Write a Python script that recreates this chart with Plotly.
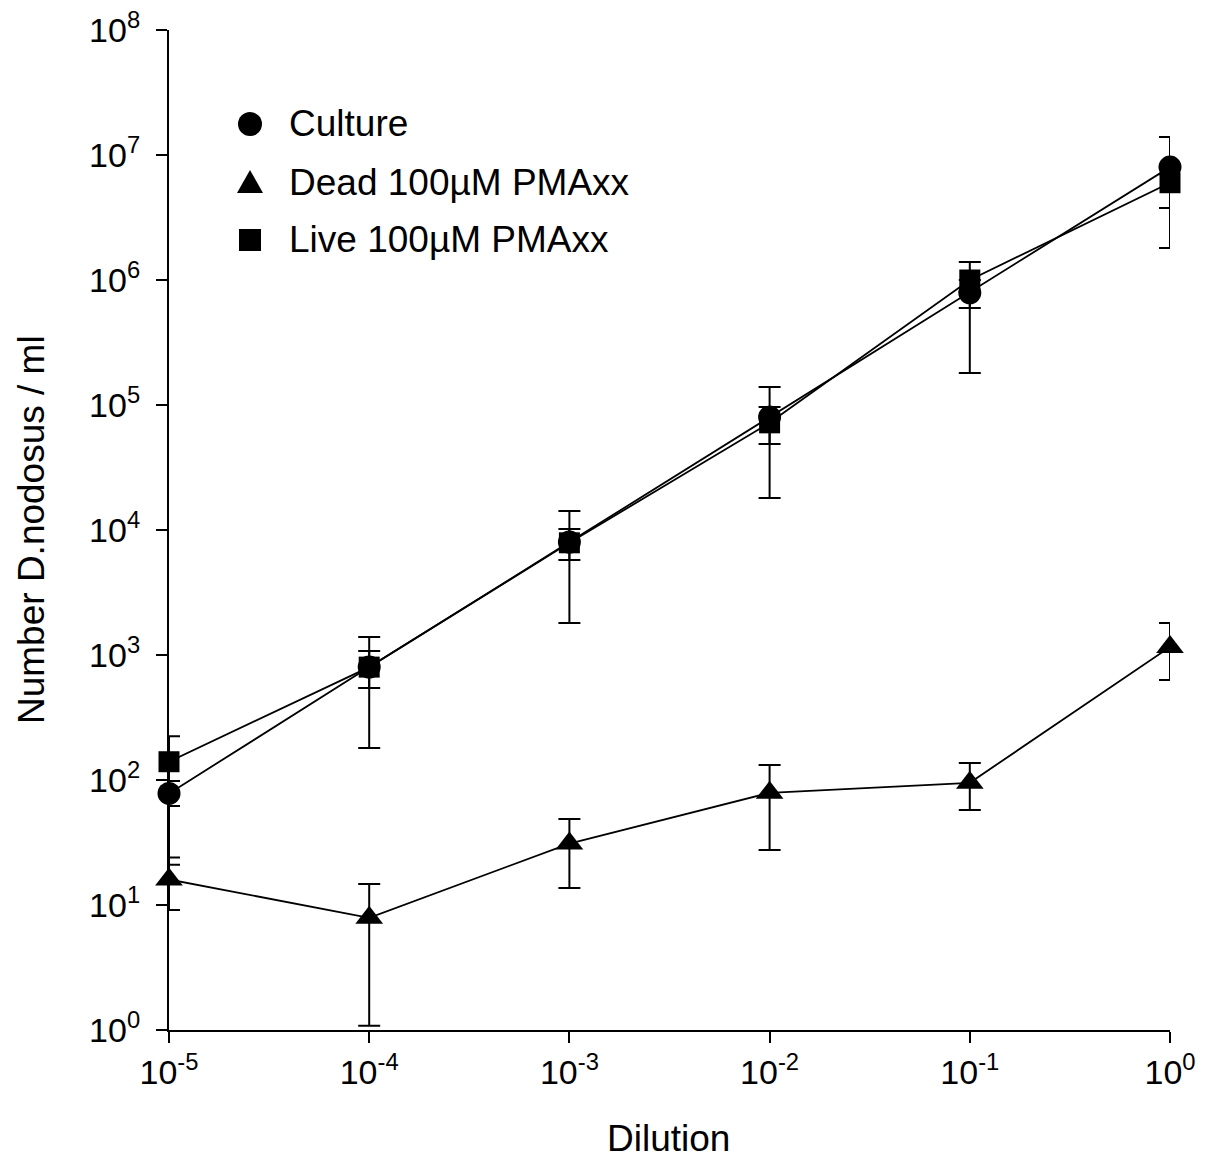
import plotly.graph_objects as go

# ---- data ----
dilution = [1e-5, 1e-4, 1e-3, 1e-2, 1e-1, 1.0]
x_tick_vals = [1e-5, 1e-4, 1e-3, 1e-2, 1e-1, 1.0]
x_tick_text = ["10<sup>-5</sup>", "10<sup>-4</sup>", "10<sup>-3</sup>",
               "10<sup>-2</sup>", "10<sup>-1</sup>", "10<sup>0</sup>"]
y_tick_vals = [1e0, 1e1, 1e2, 1e3, 1e4, 1e5, 1e6, 1e7, 1e8]
y_tick_text = ["10<sup>0</sup>", "10<sup>1</sup>", "10<sup>2</sup>", "10<sup>3</sup>",
               "10<sup>4</sup>", "10<sup>5</sup>", "10<sup>6</sup>", "10<sup>7</sup>",
               "10<sup>8</sup>"]

culture = [78, 800, 8000, 80000, 790000, 8.0e6]
culture_hi = [98, 1076, 10190, 96400, 1.0e6, 1.39e7]
culture_lo = [21, 180, 1800, 18030, 180000, 1.8e6]

dead = [16, 7.9, 31, 79, 95, 1160]
dead_hi = [24, 14.7, 48.8, 132, 137, 1803]
dead_lo = [9.1, 1.08, 13.7, 27.5, 57.5, 631]

live = [140, 800, 7900, 72000, 1.0e6, 6.0e6]
live_hi = [224, 1393, 14190, 139000, 1.39e6, 7.0e6]
live_lo = [62, 545, 5750, 48750, 597000, 3.77e6]

names = ["Culture", "Dead 100µM PMAxx", "Live 100µM PMAxx"]
x_title = "Dilution"
y_title = "Number D.nodosus / ml"

FONT = "Liberation Sans, Arial, sans-serif"
FS_TICK = 34
FS_TEXT = 37

fig = go.Figure()

def add(vals, hi, lo, symbol, size):
    fig.add_trace(go.Scatter(
        x=dilution, y=vals, mode="lines+markers",
        line=dict(color="black", width=1.8),
        marker=dict(symbol=symbol, size=size, color="black"),
        error_y=dict(type="data", symmetric=False,
                     array=[h - v for h, v in zip(hi, vals)],
                     arrayminus=[v - l for v, l in zip(vals, lo)],
                     color="black", thickness=2, width=11),
        cliponaxis=False, showlegend=False))

add(culture, culture_hi, culture_lo, "circle", 23)
add(dead, dead_hi, dead_lo, "triangle-up", 24)
add(live, live_hi, live_lo, "square", 21)

# page offset (browser body margin)
OFF = 8
PL, PR, PT, PB = 169, 1170, 30, 1030   # plot area in page pixels
pw, ph = PR - PL, PB - PT
W, H = 1195, 1150
L = PL - OFF
T = PT - OFF
R = W - L - pw
B = H - T - ph

def px(x):
    return (x - PL) / pw

def py(y):
    return (PB - y) / ph

shapes = []
annotations = []
# legend (custom, to keep symbol size)
rows = [124, 182, 240]
cx = 250
r = 12
shapes.append(dict(type="circle", xref="paper", yref="paper",
                   x0=px(cx - r), x1=px(cx + r), y0=py(rows[0] + r), y1=py(rows[0] - r),
                   fillcolor="black", line=dict(color="black", width=0)))
shapes.append(dict(type="path", xref="paper", yref="paper",
                   path="M %f,%f L %f,%f L %f,%f Z" % (px(cx - 13), py(rows[1] + 11),
                                                     px(cx + 13), py(rows[1] + 11),
                                                     px(cx), py(rows[1] - 12)),
                   fillcolor="black", line=dict(color="black", width=0)))
shapes.append(dict(type="rect", xref="paper", yref="paper",
                   x0=px(cx - 11), x1=px(cx + 11), y0=py(rows[2] + 11), y1=py(rows[2] - 11),
                   fillcolor="black", line=dict(color="black", width=0)))
for nm, ry in zip(names, rows):
    annotations.append(dict(text=nm, xref="paper", yref="paper", x=px(287), y=py(ry),
                            xanchor="left", yanchor="middle", showarrow=False,
                            font=dict(family=FONT, size=FS_TEXT, color="black")))

annotations.append(dict(text=x_title, xref="paper", yref="paper",
                        x=px(668), y=py(1138), xanchor="center", yanchor="middle",
                        showarrow=False, font=dict(family=FONT, size=FS_TEXT, color="black")))
annotations.append(dict(text=y_title, xref="paper", yref="paper",
                        x=px(31), y=py(530), xanchor="center", yanchor="middle",
                        textangle=-90, showarrow=False,
                        font=dict(family=FONT, size=FS_TEXT, color="black")))

fig.update_layout(
    width=W, height=H,
    margin=dict(l=L, r=R, t=T, b=B, autoexpand=False),
    paper_bgcolor="white", plot_bgcolor="white",
    shapes=shapes, annotations=annotations,
    font=dict(family=FONT, size=FS_TICK, color="black"),
)
fig.update_xaxes(type="log", range=[-5, 0], showgrid=False, zeroline=False,
                 showline=True, linecolor="black", linewidth=2,
                 ticks="outside", ticklen=11, tickwidth=2, tickcolor="black",
                 ticklabeloverflow="allow",
                 tickvals=x_tick_vals, ticktext=x_tick_text,
                 tickfont=dict(family=FONT, size=FS_TICK, color="black"))
fig.update_yaxes(type="log", range=[0, 8], showgrid=False, zeroline=False,
                 showline=True, linecolor="black", linewidth=2,
                 ticks="outside", ticklen=11, tickwidth=2, tickcolor="black",
                 ticklabelstandoff=9, ticklabeloverflow="allow",
                 tickvals=y_tick_vals, ticktext=y_tick_text,
                 tickfont=dict(family=FONT, size=FS_TICK, color="black"))

fig.write_html("out.html")
